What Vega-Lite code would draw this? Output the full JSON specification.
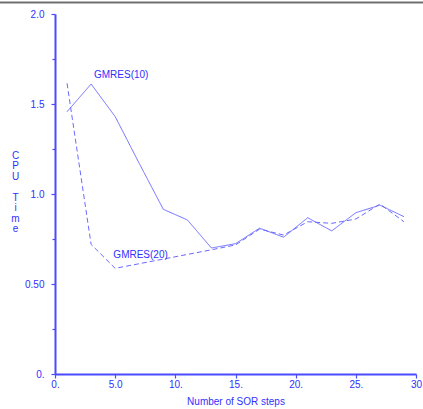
{
  "$schema": "https://vega.github.io/schema/vega-lite/v6.json",
  "width": 361,
  "height": 360,
  "autosize": {"type": "none"},
  "padding": {"left": 55, "top": 14, "right": 7, "bottom": 35},
  "background": "white",
  "config": {
    "view": {"stroke": null},
    "font": "Liberation Sans",
    "axis": {"grid": false, "domainColor": "#4a4aff", "tickColor": "#4a4aff", "labelColor": "#3030ff", "titleColor": "#3030ff", "labelFont": "Liberation Sans", "titleFont": "Liberation Sans", "labelFontSize": 10, "titleFontSize": 10, "titleFontWeight": "normal"}
  },
  "datasets": {
    "lines": [
      {"steps": 1, "cpu": 1.457, "method": "GMRES(10)"},
      {"steps": 3, "cpu": 1.611, "method": "GMRES(10)"},
      {"steps": 5, "cpu": 1.43, "method": "GMRES(10)"},
      {"steps": 7, "cpu": 1.17, "method": "GMRES(10)"},
      {"steps": 9, "cpu": 0.915, "method": "GMRES(10)"},
      {"steps": 11, "cpu": 0.856, "method": "GMRES(10)"},
      {"steps": 13, "cpu": 0.70, "method": "GMRES(10)"},
      {"steps": 15, "cpu": 0.724, "method": "GMRES(10)"},
      {"steps": 17, "cpu": 0.81, "method": "GMRES(10)"},
      {"steps": 19, "cpu": 0.76, "method": "GMRES(10)"},
      {"steps": 21, "cpu": 0.868, "method": "GMRES(10)"},
      {"steps": 23, "cpu": 0.795, "method": "GMRES(10)"},
      {"steps": 25, "cpu": 0.896, "method": "GMRES(10)"},
      {"steps": 27, "cpu": 0.938, "method": "GMRES(10)"},
      {"steps": 29, "cpu": 0.874, "method": "GMRES(10)"},
      {"steps": 1, "cpu": 1.615, "method": "GMRES(20)"},
      {"steps": 3, "cpu": 0.72, "method": "GMRES(20)"},
      {"steps": 5, "cpu": 0.587, "method": "GMRES(20)"},
      {"steps": 13, "cpu": 0.69, "method": "GMRES(20)"},
      {"steps": 15, "cpu": 0.717, "method": "GMRES(20)"},
      {"steps": 17, "cpu": 0.805, "method": "GMRES(20)"},
      {"steps": 19, "cpu": 0.772, "method": "GMRES(20)"},
      {"steps": 21, "cpu": 0.846, "method": "GMRES(20)"},
      {"steps": 23, "cpu": 0.837, "method": "GMRES(20)"},
      {"steps": 25, "cpu": 0.861, "method": "GMRES(20)"},
      {"steps": 27, "cpu": 0.944, "method": "GMRES(20)"},
      {"steps": 29, "cpu": 0.846, "method": "GMRES(20)"}
    ],
    "labels": [
      {"steps": 3.24, "cpu": 1.661, "text": "GMRES(10)"},
      {"steps": 4.85, "cpu": 0.661, "text": "GMRES(20)"}
    ]
  },
  "layer": [
    {
      "data": {"name": "lines"},
      "mark": {"type": "line", "strokeWidth": 1, "color": "#6a6aff", "clip": false},
      "encoding": {
        "x": {"field": "steps", "type": "quantitative", "scale": {"domain": [0, 30], "nice": false, "zero": false},
          "axis": {"orient": "bottom", "values": [0, 1.25, 2.5, 3.75, 5, 6.25, 7.5, 8.75, 10, 11.25, 12.5, 13.75, 15, 16.25, 17.5, 18.75, 20, 21.25, 22.5, 23.75, 25, 26.25, 27.5, 28.75, 30], "labelExpr": "datum.value % 5 != 0 ? '' : datum.value == 0 ? '0.' : datum.value == 5 ? '5.0' : datum.value == 30 ? '30' : datum.value + '.'", "tickSize": {"condition": {"test": "datum.value % 5 == 0", "value": 4}, "value": 3}, "tickWidth": 1.2, "domainWidth": 2, "labelPadding": 1, "title": "Number of SOR steps", "titlePadding": 7, "labelFlush": false, "labelOverlap": false}},
        "y": {"field": "cpu", "type": "quantitative", "scale": {"domain": [0, 2], "nice": false, "zero": false},
          "axis": {"orient": "left", "values": [0, 0.125, 0.25, 0.375, 0.5, 0.625, 0.75, 0.875, 1, 1.125, 1.25, 1.375, 1.5, 1.625, 1.75, 1.875, 2], "labelExpr": "datum.value % 0.5 != 0 ? '' : datum.value == 0 ? '0.' : datum.value == 0.5 ? '0.50' : format(datum.value, '.1f')", "tickSize": {"condition": {"test": "datum.value % 0.5 == 0", "value": 4}, "value": 3}, "tickWidth": 1.2, "domainWidth": 2, "labelPadding": 7, "labelFlush": false, "labelOverlap": false, "title": ["C", "P", "U", "\u200b", "T", "i", "m", "e"], "titleAngle": 0, "titleLineHeight": 10.5, "titleAlign": "center", "titleBaseline": "middle", "titleX": -40, "titleY": 141, "titlePadding": 10}},
        "strokeDash": {"field": "method", "type": "nominal", "scale": {"domain": ["GMRES(10)", "GMRES(20)"], "range": [[1, 0], [5, 3]]}, "legend": null}
      }
    },
    {
      "data": {"name": "labels"},
      "mark": {"type": "text", "align": "left", "baseline": "middle", "fontSize": 10, "color": "#3030ff", "font": "Liberation Sans"},
      "encoding": {
        "x": {"field": "steps", "type": "quantitative"},
        "y": {"field": "cpu", "type": "quantitative"},
        "text": {"field": "text"}
      }
    },
    {
      "data": {"values": [{"y": 2.064, "x1": -4.6, "x2": 30.6}]},
      "mark": {"type": "rule", "color": "#707070", "strokeWidth": 2},
      "encoding": {
        "x": {"field": "x1", "type": "quantitative"},
        "x2": {"field": "x2"},
        "y": {"field": "y", "type": "quantitative"}
      }
    }
  ]
}
